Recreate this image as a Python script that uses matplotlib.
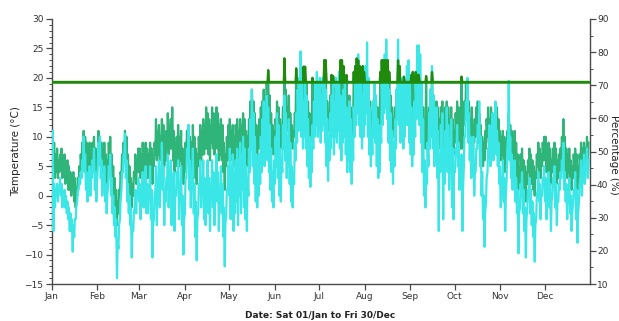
import numpy as np
import matplotlib
matplotlib.use('Agg')
import matplotlib.pyplot as plt
from matplotlib.ticker import MultipleLocator

# month ticks (2011: Sat 01/Jan .. Fri 30/Dec, 364 days)
months = ['Jan', 'Feb', 'Mar', 'Apr', 'May', 'Jun', 'Jul', 'Aug', 'Sep', 'Oct', 'Nov', 'Dec']
month_start = [0, 31, 59, 90, 120, 151, 181, 212, 243, 273, 304, 334]

# threshold line, read on the right (percentage) axis
threshold_pct = 71

# cyan series: daily max / min temperature (deg C)
cyan_hi = [
    11, 2, 1, 2, 1, 3, 2, 0, 1, 0, -1, -2, -3, -4, -5, -4, -2, 1, 3, 4, 6, 10, 7, 4, 2, 5, 3, 6, 8, 4, 2,
    9, 10, 6, 3, 5, 2, 0, 5, 7, 3, 0, -2, -4, -8, -5, -1, 4, 7, 10.5, 6, 2, 0, -2, -6, -3, 1, 0, 3,
    2, 0, 4, 2, 5, 2, 1, 5, 1, -5, 0, 5, 1, 6, 3, 9, 5, 0, 3, 7, 3, 6, 1, 4, 0, 4, 6, 1, 5, 0, -4,
    3, 8, 12, 6, 3, 8, 2, -1, -4, 2, 6, 3, 6, 3, 0, 6, 3, 0, 6, 4, 1, 7, 4, 0, 5, 2, -2, -5, 1, 5,
    8, 5, 7, 4, 6, 8, 6, 9, 7, 10, 8, 5, 3, 8, 13, 18, 14, 10, 7, 4, 7, 10, 13, 16, 14, 17, 15, 12, 8, 4, 6,
    10, 14, 12, 8, 6, 12, 17, 14, 10, 13, 9, 5, 4, 9, 14, 18, 20, 24.5, 19, 16, 19, 17, 13, 10, 8, 12, 16, 19, 21, 18,
    20, 17, 20, 21, 18, 13, 10, 14, 17, 19, 16, 20, 18, 21, 17, 14, 18, 20, 15, 12, 16, 13, 10, 15, 20, 22, 24, 21, 19, 17, 20,
    22, 26, 20, 15, 11, 16, 19, 17, 13, 9, 12, 19, 22, 24, 26.5, 23, 18, 14, 11, 9, 13, 18, 26.5, 22, 18, 20, 16, 19, 22, 23, 19,
    15, 12, 16, 21, 25.5, 25.5, 24, 19, 13, 6, 3, 9, 14, 18, 22, 17, 13, 15, 11, 7, 12, 14, 8, 11, 15, 12, 9, 13, 8, 5,
    8, 12, 9, 5, 7, 1, 10, 16, 20, 14, 10, 7, 10, 4, 8, 12, 16, 10, 4, 0, -3, 3, 8, 12, 9, 14, 10, 16, 11, 9, 5,
    2, 6, 3, 0, 8, 19.5, 10, 7, 4, 6, 3, 1, -3, 2, 4, 1, -2, -4, 1, 3, 1, -1, -3, -5, 0, 4, 2, 0, 3, 5,
    3, 0, 4, 2, -1, 3, 5, 2, -1, 2, 4, 6, 9, 4, 2, 0, 3, 0, -3, 1, 4, 1, -3, 2, 6, 3, 7, 5, 8, 6,
]
cyan_lo = [
    7, -6, -2, 0, -1, 1, 0, -2, -1, -2, -3, -4, -6, -6, -9.5, -7, -4, -1, 1, 2, 3, 6, 4, 1, -1, 2, 0, 3, 5, 1, -1,
    5, 6, 3, 0, 2, -1, -3, 2, 4, 0, -3, -5, -7, -14, -9, -4, 1, 4, 7, 3, -1, -3, -5, -10.5, -6, -2, -3, 0,
    -1, -4, 1, -2, 1, -3, -3, 1, -4, -10.5, -4, 1, -5, 2, -2, 4, 1, -5, -1, 3, -2, 1, -5, 0, -6, 0, 2, -4, 0, -5, -10,
    -3, 3, 6, 1, -2, 3, -3, -7, -11, -3, 1, -2, 0, -4, -5, 1, -3, -6, 0, -2, -5, 2, -1, -6, 0, -3, -7, -12, -3, 1,
    0, -4, -2, -6, -3, -1, -5, 0, -3, 1, -2, -4, -6, 0, 4, 8, 5, 2, -1, -2, 0, 2, 4, 7, 5, 8, 6, 4, 1, -1, -2,
    2, 5, 3, 0, -1, 4, 8, 6, 3, 5, 2, -1, -2, 2, 6, 9, 11, 13, 10, 8, 10, 8, 5, 3, 1.5, 4, 8, 10, 12, 10,
    11, 9, 11, 12, 9, 5, 2.5, 6, 8, 10, 7, 10, 9, 11, 8, 6, 9, 10, 7, 4, 6, 4, 2, 6, 10, 12, 14, 12, 10, 8, 10,
    12, 14, 10, 7, 5, 7, 10, 9, 5, 3, 4, 9, 12, 14, 15, 13, 9, 6, 4, 2, 5, 8, 13, 12, 9, 10, 8, 10, 12, 12, 9,
    7, 5, 7, 10, 13, 14, 12, 9, 4, 0, -2, 2, 5, 8, 10, 8, 5, 6, 3, -6, 4, 5, -4, 2, 6, 4, 1, 4, -2, -4,
    4, 7, 5, 1, 3, -6, 5, 10, 13, 9, 6, 3, 6, 0, 4, 8, 10, 5, 0, -4, -8.7, -1, 4, 7, 5, 9, 6, 10, 7, 5, 2,
    -2, 2, -1, -6, 3, 10, 6, 3, 1, 3, -1, -3, -9.8, -2, 0, -3, -6, -10.5, -2, 0, -3, -5, -7, -11.2, -4, 1, -1, -4, 0, 2,
    -1, -4, 1, -2, -6, 0, 2, -2, -5, -1, 1, 3, 5, 1, -1, -4, 0, -3, -6, -1, 1, -4, -8, -1, 3, 0, 4, 2, 5, 3,
]

# green series: daily max / min temperature (deg C)
green_hi = [
    11, 9, 7, 8, 6, 7, 8, 6, 7, 5, 6, 5, 4, 3, 4, 3, 1, 3, 5, 7, 9, 11, 10, 9, 8, 9, 7, 9, 10, 8, 7,
    11, 10, 9, 8, 9, 7, 6, 9, 10, 7, 5, 3, 1, -1, 1, 4, 7, 9, 11, 10, 7, 5, 3, 2, 4, 7, 6, 8,
    8, 7, 9, 8, 9, 8, 7, 9, 8, 6, 9, 13, 11, 12, 10, 13, 12, 10, 11, 14, 12, 13, 15, 11, 9, 10, 12, 10, 11, 8, 7,
    9, 11, 12, 10, 9, 12, 10, 8, 7, 10, 12, 11, 13, 12, 15, 14, 13, 12, 15, 14, 12, 15, 14, 12, 13, 12, 9, 7, 10, 12,
    13, 11, 12, 10, 12, 13, 11, 13, 12, 14, 13, 11, 10, 13, 16, 18, 16, 14, 12, 11, 13, 15, 16, 18, 17, 19, 21.3, 17, 14, 12, 11,
    13, 16, 15, 13, 12, 15, 23.3, 18, 15, 17, 14, 12, 11, 14, 21.6, 18, 19, 19.2, 18, 21.9, 21.9, 19, 16, 14, 13, 20, 18, 19, 19.2, 18,
    19, 18, 19.2, 23, 23, 16, 14, 17, 20.5, 20.3, 18, 19, 18, 19.2, 23, 23, 22, 19, 20.5, 16, 17, 15, 14, 21, 22, 23.3, 23, 22, 21.6, 22, 21,
    19.2, 19, 18, 16, 14, 16, 18, 17, 15, 13, 21, 23, 23, 23, 23, 23, 21, 17, 15, 13, 15, 18, 23, 22, 18, 19, 20.2, 19, 19.2, 19.2, 18,
    20.5, 21, 17, 21, 20.5, 20.5, 19.2, 18, 15, 13, 20.3, 13, 15, 18, 21, 17, 15, 16, 15, 13, 15, 16, 13, 15, 16, 15, 13, 15, 13, 11,
    14, 16, 15, 12, 20.2, 12, 16, 19, 18, 16, 13, 15, 12, 13, 15, 16, 14, 12, 10, 9, 11, 13, 15, 13, 15, 14, 12, 13, 15, 13, 11,
    10, 11, 10, 9, 11, 14, 12, 11, 10, 11, 9, 7, 5, 7, 8, 6, 5, 4, 6, 8, 7, 6, 5, 4, 7, 9, 8, 7, 9, 10,
    10, 8, 9, 8, 6, 8, 9, 8, 6, 7, 8, 10, 13, 10, 8, 7, 8, 6, 5, 7, 8, 7, 5, 7, 9, 8, 9, 8, 10, 9,
]
green_lo = [
    8, 5, 3, 4, 3, 4, 5, 3, 4, 2, 3, 1, 1, 0, 1, -1, -2, 0, 2, 3, 5, 7, 6, 5, 4, 5, 4, 5, 6, 4, 3,
    7, 6, 5, 4, 5, 3, 2, 5, 6, 3, 1, -1, -3, -5, -3, 0, 3, 6, 7, 6, 3, 1, -1, -2, 0, 3, 2, 4,
    4, 3, 5, 4, 5, 3, 3, 5, 4, 2, 5, 7, 6, 7, 6, 8, 7, 5, 6, 8, 7, 8, 8, 6, 4, 5, 6, 5, 6, 3, 2,
    4, 6, 6, 5, 4, 6, 5, 3, 2, 5, 6, 6, 7, 7, 8, 8, 7, 6, 9, 8, 7, 9, 8, 6, 7, 6, 4, 1, 5, 6,
    7, 6, 7, 5, 6, 7, 5, 8, 7, 9, 8, 6, 5, 8, 10, 12, 11, 9, 7, 6, 8, 10, 11, 13, 12, 14, 15, 12, 10, 8, 7,
    9, 11, 10, 9, 8, 10, 14, 13, 11, 12, 10, 9, 8, 10, 13, 13, 14, 15, 14, 15, 15, 14, 12, 11, 10, 12, 13, 14, 15, 14,
    15, 14, 15, 16, 15, 12, 11, 12, 14, 15, 14, 15, 14, 15, 15, 14, 15, 14, 13, 12, 12, 11, 10, 13, 15, 16, 17, 17, 16, 16, 16,
    15, 15, 14, 12, 11, 12, 13, 13, 11, 10, 12, 15, 16, 17, 17, 16, 15, 13, 11, 10, 11, 13, 15, 15, 14, 14, 14, 14, 15, 15, 14,
    13, 12, 12, 14, 15, 15, 15, 13, 11, 9, 8, 9, 10, 12, 14, 12, 10, 11, 10, 8, 10, 11, 8, 10, 11, 10, 9, 10, 8, 7,
    9, 11, 10, 8, 8, 8, 12, 13, 13, 11, 9, 10, 8, 9, 10, 11, 9, 7, 6, 5, 6, 8, 10, 9, 10, 9, 8, 9, 10, 8, 7,
    6, 7, 5, 4, 7, 9, 8, 7, 6, 7, 4, 3, 1, 2, 4, 2, 1, -1, 2, 4, 3, 2, 1, 0, 3, 5, 4, 3, 5, 6,
    6, 4, 5, 4, 2, 4, 5, 4, 2, 3, 4, 6, 8, 6, 4, 3, 4, 2, 1, 3, 4, 3, 1, 3, 5, 4, 5, 4, 6, 5,
]

CYAN = '#3ae6e6'
GREEN = '#2fb57a'
DARK = '#1f8a0c'

# axis ranges: left -15..30 degC, right 10..90 %
t_min, t_max = -15, 30
p_min, p_max = 10, 90
thr_temp = t_min + (threshold_pct - p_min) * (t_max - t_min) / (p_max - p_min)

days = np.arange(len(cyan_hi))
x = np.column_stack([days + 0.25, days + 0.65]).ravel()
cyan = np.column_stack([cyan_lo, cyan_hi]).ravel()
green = np.column_stack([green_lo, green_hi]).ravel()

plt.rcParams['font.family'] = 'DejaVu Sans'
fig = plt.figure(figsize=(6.19, 3.21), dpi=100)
ax = fig.add_axes([51.7 / 619, 1 - 284 / 321, (590 - 51.7) / 619, 265 / 321])

ax.plot(x, green, color=GREEN, lw=1.6, zorder=2)
ax.plot(x, cyan, color=CYAN, lw=1.6, zorder=3)
ax.plot(x, np.maximum(green, thr_temp), color=DARK, lw=1.6, zorder=4)

ax.set_xlim(0, 364.7)
ax.set_ylim(t_min, t_max)

ax2 = ax.twinx()
ax2.set_ylim(p_min, p_max)
ax2.axhline(threshold_pct, color=DARK, lw=1.8, zorder=5)

spine_col = '#4a4a4a'
for a in (ax, ax2):
    a.spines['top'].set_visible(False)
    for s in ('left', 'right', 'bottom'):
        a.spines[s].set_color(spine_col)
        a.spines[s].set_linewidth(1.0)
ax.spines['right'].set_visible(False)
ax2.spines['left'].set_visible(False)
ax2.spines['bottom'].set_visible(False)

ax.set_xticks(month_start)
ax.set_xticklabels(months)
ax.yaxis.set_major_locator(MultipleLocator(5))
ax.yaxis.set_minor_locator(MultipleLocator(1))
ax2.yaxis.set_major_locator(MultipleLocator(10))
ax2.yaxis.set_minor_locator(MultipleLocator(5))

ax.tick_params(axis='both', which='major', direction='out', length=4, width=0.9,
               colors=spine_col, labelcolor='#333333', labelsize=6.5, pad=2)
ax.tick_params(axis='y', which='minor', direction='out', length=2, width=0.7, colors=spine_col)
ax2.tick_params(axis='y', which='major', direction='out', length=4, width=0.9,
                colors=spine_col, labelcolor='#333333', labelsize=6.5, pad=1)
ax2.tick_params(axis='y', which='minor', direction='out', length=2, width=0.7, colors=spine_col)

fig.text(16 / 619, 1 - 151 / 321, 'Temperature (\u00b0C)', rotation=90,
         ha='center', va='center', fontsize=7.5, color='#222222')
fig.text(614 / 619, 1 - 155 / 321, 'Percentage (%)', rotation=270,
         ha='center', va='center', fontsize=7.5, color='#222222')
fig.text(320 / 619, 1 - 316 / 321, 'Date: Sat 01/Jan to Fri 30/Dec',
         ha='center', va='center', fontsize=6.5, fontweight='bold', color='#222222')

fig.savefig('out.png', dpi=100)
